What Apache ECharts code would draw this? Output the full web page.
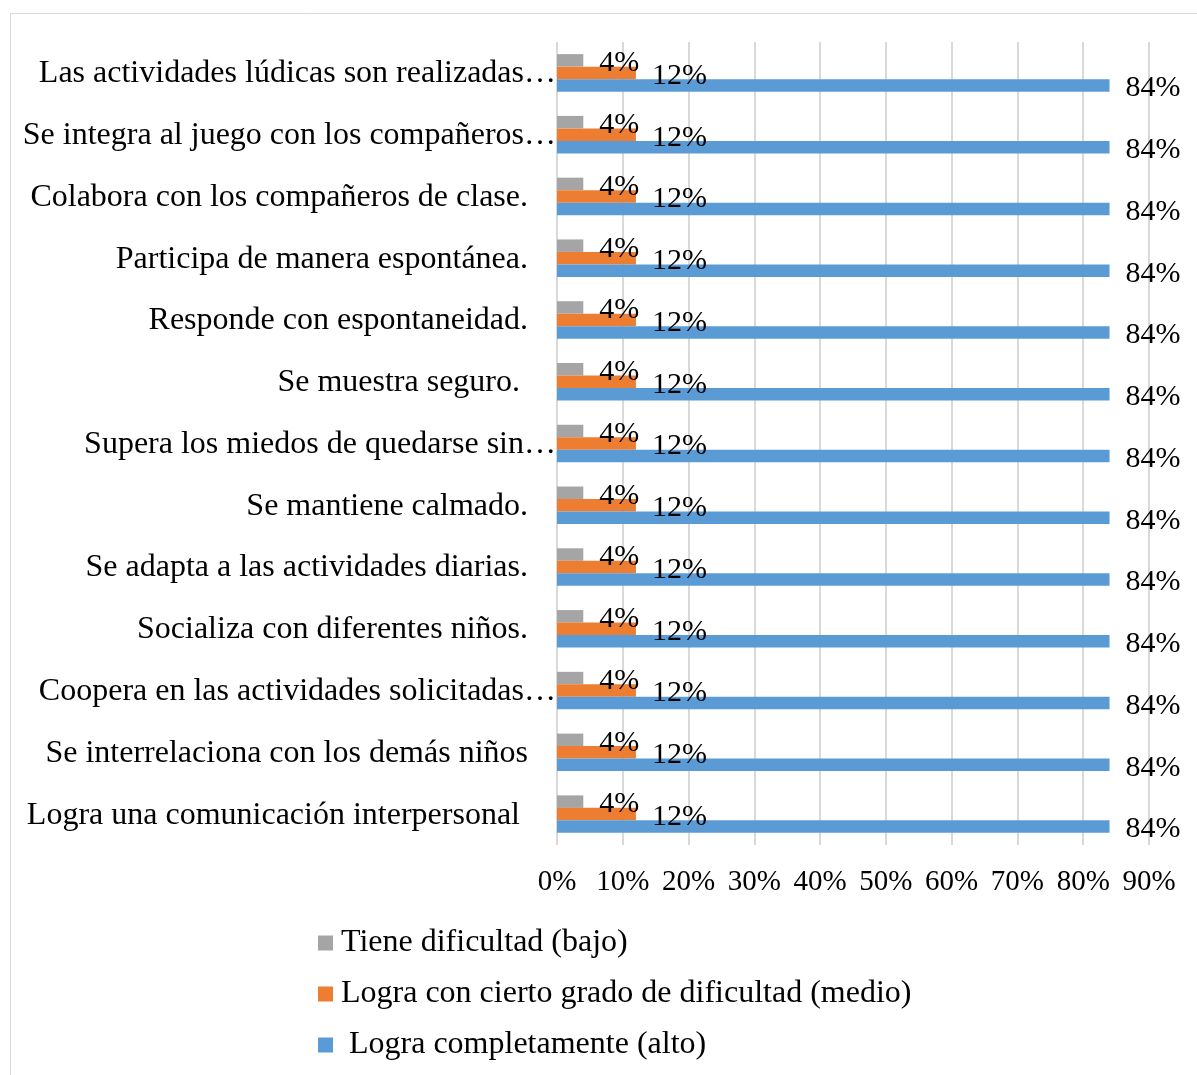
<!DOCTYPE html>
<html>
<head>
<meta charset="utf-8">
<script src="https://cdn.jsdelivr.net/npm/echarts@6/dist/echarts.min.js"></script>
<style>
  html, body { margin: 0; padding: 0; background: #fff; }
  #chart { width: 1197px; height: 1075px; }
</style>
</head>
<body>
<div id="chart"></div>
<script>
// categorias (de arriba hacia abajo)
const categorias = [
  'Las actividades lúdicas son realizadas…',
  'Se integra al juego con los compañeros…',
  'Colabora con los compañeros de clase.',
  'Participa de manera espontánea.',
  'Responde con espontaneidad.',
  'Se muestra seguro. ',
  'Supera los miedos de quedarse sin…',
  'Se mantiene calmado.',
  'Se adapta a las actividades diarias.',
  'Socializa con diferentes niños.',
  'Coopera en las actividades solicitadas…',
  'Se interrelaciona con los demás niños',
  'Logra una comunicación interpersonal '
];
const nombresSeries = ['Tiene dificultad (bajo)', 'Logra con cierto grado de dificultad (medio)', ' Logra completamente (alto)'];
const bajo = [4, 4, 4, 4, 4, 4, 4, 4, 4, 4, 4, 4, 4];
const medio = [12, 12, 12, 12, 12, 12, 12, 12, 12, 12, 12, 12, 12];
const alto = [84, 84, 84, 84, 84, 84, 84, 84, 84, 84, 84, 84, 84];
const ticks = [0, 10, 20, 30, 40, 50, 60, 70, 80, 90];

const fuente = "'Liberation Serif', 'Times New Roman', serif";
const colores = ['#A5A5A5', '#ED7D31', '#5B9BD5'];

let myChart = echarts.init(document.getElementById('chart'));

function serie(nombre, datos, color) {
  return {
    type: 'bar',
    name: nombre,
    data: datos,
    barWidth: 12.5,
    barGap: '0%',
    itemStyle: { color: color },
    label: {
      show: true,
      position: 'right',
      distance: 16,
      offset: [0, 3],
      formatter: '{c}%',
      color: '#000',
      fontFamily: fuente,
      fontSize: 30
    }
  };
}

let option = {
  animation: false,
  backgroundColor: '#fff',
  textStyle: { fontFamily: fuente },
  //marco exterior
  graphic: [{
    type: 'rect',
    shape: { x: 10.5, y: 13.5, width: 1300, height: 1200 },
    style: { fill: 'none', stroke: '#D9D9D9', lineWidth: 1 },
    silent: true
  }],
  grid: {
    left: 557,
    right: 48,
    top: 42,
    bottom: 230
  },
  legend: {
    orient: 'vertical',
    left: 313,
    top: 922,
    itemWidth: 15,
    itemHeight: 15,
    itemGap: 19,
    icon: 'rect',
    data: nombresSeries,
    textStyle: { fontFamily: fuente, fontSize: 32, color: '#000', padding: [0, 0, 0, 3] }
  },
  xAxis: {
    type: 'value',
    min: 0,
    max: 90,
    interval: 10,
    axisLine: { show: false },
    axisTick: { show: false },
    splitLine: { show: true, lineStyle: { color: '#D9D9D9', width: 2 } },
    axisLabel: {
      margin: 23,
      color: '#000',
      fontFamily: fuente,
      fontSize: 29,
      formatter: v => ticks.includes(v) ? v + '%' : ''
    }
  },
  yAxis: {
    type: 'category',
    inverse: true,
    data: categorias,
    axisLine: { show: false },
    axisTick: { show: false },
    axisLabel: {
      margin: 1,
      color: '#000',
      fontFamily: fuente,
      fontSize: 32,
      formatter: v => v.endsWith('…') ? '{b|' + v + '}' : '{a|' + v + '}',
      rich: {
        a: { fontFamily: fuente, fontSize: 32, color: '#000', padding: [2, 28, 0, 0] },
        b: { fontFamily: fuente, fontSize: 32, color: '#000', padding: [2, 0, 0, 0] }
      }
    }
  },
  series: [
    serie(nombresSeries[0], bajo, colores[0]),
    serie(nombresSeries[1], medio, colores[1]),
    serie(nombresSeries[2], alto, colores[2])
  ]
};
option && myChart.setOption(option, true);
</script>
</body>
</html>
